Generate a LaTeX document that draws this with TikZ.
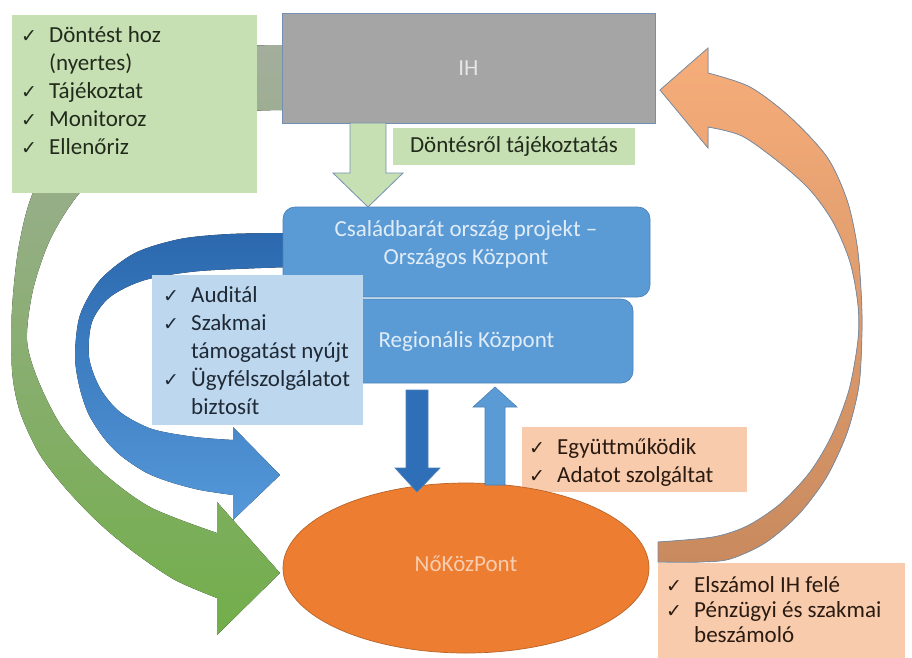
\documentclass[tikz,border=0pt]{standalone}
\usepackage{fontspec}
\setmainfont{Carlito}
\newfontfamily\symfont{DejaVu Sans}
\usetikzlibrary{positioning,shapes.geometric}

\definecolor{ihgray}{HTML}{A5A5A5}
\definecolor{ihedge}{HTML}{7390B0}
\definecolor{ihtext}{HTML}{E6E6E6}
\definecolor{dgreen}{HTML}{C6E0B4}
\definecolor{greentext}{HTML}{222B1B}
\definecolor{kpblue}{HTML}{5B9BD5}
\definecolor{kpedge}{HTML}{4A80B8}
\definecolor{kptext}{HTML}{E0ECF8}
\definecolor{kpdark}{HTML}{2E6FB7}
\definecolor{paleblue}{HTML}{BDD7EE}
\definecolor{bluetext}{HTML}{1F2A36}
\definecolor{peach}{HTML}{F8CBAD}
\definecolor{peachtext}{HTML}{2A1A10}
\definecolor{nkorange}{HTML}{ED7D31}
\definecolor{nkedge}{HTML}{B8642A}
\definecolor{nktext}{HTML}{F9CDB0}
\definecolor{arcgreentop}{HTML}{A3AE9C}
\definecolor{arcgreenmid}{HTML}{A6CF8A}
\definecolor{arcgreenbot}{HTML}{72AE4A}
\definecolor{arcbluetop}{HTML}{2B68AE}
\definecolor{arcbluebot}{HTML}{5599DA}
\definecolor{arcorangetop}{HTML}{F6AD7A}
\definecolor{arcorangebot}{HTML}{C88A5E}
\definecolor{arcedge}{HTML}{7F8DA0}

\newcommand{\chk}{\makebox[28pt][l]{\symfont\fontsize{19}{19}\selectfont ✓}}
\newcommand{\ind}{\hspace*{28pt}}

\begin{document}
\begin{tikzpicture}[x=1pt,y=-1pt,font=\fontsize{23}{28}\selectfont]
  \tikzstyle{plainbox}=[rectangle,inner sep=0pt,draw=none]
  \tikzstyle{bluebox}=[rectangle,rounded corners=12pt,fill=kpblue,draw=kpedge,line width=0.7pt]
  \tikzstyle{listtext}=[inner sep=0pt,align=left,anchor=north west]
  \useasboundingbox (0,0) rectangle (912,657);

  % curved arrows behind everything
  \fill[top color=arcgreentop,middle color=arcgreenmid,bottom color=arcgreenbot]
    plot[smooth] coordinates {(282,45) (200,50) (120,80) (65,130) (32,195) (19,245)
      (13,295) (11,340) (13,380) (21,415) (40,455) (67,490) (100,524) (135,553)
      (175,580) (217,598)}
    -- (217,635) -- (280,573) -- (217,502) -- (217,533)
    -- plot[smooth] coordinates {(217,533) (150,507) (100,470) (62,427) (38,380)
      (27,340) (33,290) (50,240) (78,195) (130,140) (200,115) (282,110)} -- cycle;

  \fill[top color=arcbluetop,bottom color=arcbluebot]
    plot[smooth] coordinates {(290,233) (230,234) (180,239) (135,253) (100,280)
      (80,315) (75,355) (79,385) (88,413) (103,437) (120,455) (145,472) (170,482)
      (200,490) (233,495)}
    -- (233,520) -- (280,475) -- (233,427) -- (233,440)
    -- plot[smooth] coordinates {(233,440) (195,437) (152,429) (120,412) (100,388)
      (89,357) (92,322) (110,297) (145,280) (200,271) (290,267)} -- cycle;

  \filldraw[top color=arcorangetop,bottom color=arcorangebot,draw=arcedge,line width=0.8pt]
    (660,90) -- (708,48) -- (708,73)
    -- plot[smooth] coordinates {(708,73) (750,87) (790,117) (827,157) (847,200)
      (857,245) (861,290) (862,330) (859,385) (847,433) (826,478) (798,515)
      (765,543) (730,559) (700,562) (658,562)}
    -- (658,542)
    -- plot[smooth] coordinates {(658,542) (713,537) (747,526) (780,504) (810,472)
      (832,435) (849,390) (858,340) (858,305) (850,262) (833,222) (810,190)
      (780,163) (742,136) (708,127)}
    -- (708,148) -- cycle;

  % boxes
  \node[plainbox,fill=ihgray,draw=ihedge,line width=0.7pt,minimum width=373,minimum height=110,text=ihtext] (ih) at (468.5,68) {IH};
  \node[plainbox,fill=dgreen,minimum width=245,minimum height=178] (ihtasks) at (134.5,104) {};
  \node[listtext,text=greentext] (ihtasklist) at (21,26) {\chk Döntést hoz\\\ind(nyertes)\\\chk Tájékoztat\\\chk Monitoroz\\\chk Ellenőriz};
  \node[plainbox,fill=dgreen,minimum width=242,minimum height=37,text=greentext] (dontesinfo) at (514,146.5) {Döntésről tájékoztatás};

  \node[bluebox,minimum width=333,minimum height=84,text=kptext] (regio) at (466.5,341) {Regionális Központ};
  \node[bluebox,minimum width=367,minimum height=90] (orszagos) at (466.5,252) {};
  \node[text=kptext,align=center,inner sep=0pt] (orszagostext) at (466,244) {Családbarát ország projekt –\\Országos Központ};

  \node[plainbox,fill=paleblue,minimum width=211,minimum height=150] (kpservice) at (257.5,350) {};
  \node[listtext,text=bluetext] (kpservicelist) at (163,286) {\chk Auditál\\\chk Szakmai\\\ind támogatást nyújt\\\chk Ügyfélszolgálatot\\\ind biztosít};

  \node[plainbox,fill=peach,minimum width=225,minimum height=65] (nkdata) at (634.5,459.5) {};
  \node[listtext,text=peachtext] (nkdatalist) at (529,438) {\chk Együttműködik\\\chk Adatot szolgáltat};

  \node[ellipse,fill=nkorange,draw=nkedge,line width=0.7pt,minimum width=366,minimum height=170,text=nktext] (nokozpont) at (466,568) {\raisebox{8pt}{NőKözPont}};

  \node[plainbox,fill=peach,minimum width=247,minimum height=100,anchor=north west] (elszamol) at (658,563) {};
  \node[listtext,text=peachtext,font=\fontsize{23}{25}\selectfont] (elszamollist) at (666,576) {\chk Elszámol IH felé\\\chk Pénzügyi és szakmai\\\ind beszámoló};

  % straight block arrows
  \filldraw[fill=dgreen,draw=ihedge,line width=0.8pt]
    (350,123) -- (386,123) -- (386,173) -- (403,173) -- (368,207) -- (333,173) -- (350,173) -- cycle;
  \filldraw[fill=kpdark,draw=kpedge,line width=0.6pt]
    (406,390) -- (428,390) -- (428,468) -- (440,468) -- (417,492) -- (395,468) -- (406,468) -- cycle;
  \filldraw[fill=kpblue,draw=kpedge,line width=0.6pt]
    (485,485) -- (485,407) -- (473,407) -- (495,387) -- (517,407) -- (505,407) -- (505,485) -- cycle;
\end{tikzpicture}
\end{document}
